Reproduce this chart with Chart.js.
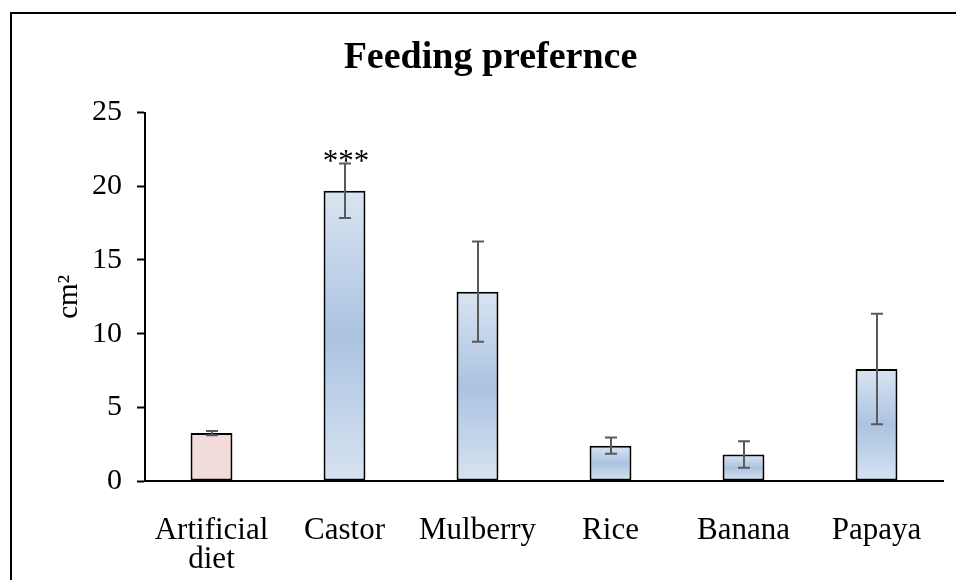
<!DOCTYPE html>
<html>
<head>
<meta charset="utf-8">
<script src="https://cdn.jsdelivr.net/npm/chart.js@4/dist/chart.umd.min.js"></script>
<style>
  html, body { margin: 0; padding: 0; background: #ffffff; }
  #wrap { width: 956px; height: 580px; position: relative; }
</style>
</head>
<body>
<div id="wrap"><canvas id="c" width="956" height="580"></canvas></div>
<script>
// Leaf area consumed per host plant (cm²)
const categories = [['Artificial', 'diet'], 'Castor', 'Mulberry', 'Rice', 'Banana', 'Papaya'];
const meanArea = [3.25, 19.7, 12.85, 2.4, 1.8, 7.6];
const errArea = [0.15, 1.85, 3.4, 0.55, 0.9, 3.75];
const marks = ['', '***', '', '', '', ''];
const yMin = 0, yMax = 25, yStep = 5;

const SERIF = "'Liberation Serif', 'Times New Roman', serif";

// vertical gradient per bar: light edges, deeper blue in the middle
function barFill(ctx) {
  const chart = ctx.chart;
  const i = ctx.dataIndex;
  if (i === 0) return '#f2dcdb';
  const ys = chart.scales.y;
  if (!ys || ctx.parsed === undefined) return '#c5d5ea';
  const top = ys.getPixelForValue(meanArea[i]);
  const base = ys.getPixelForValue(0);
  if (!isFinite(top) || !isFinite(base) || Math.abs(base - top) < 1) return '#c5d5ea';
  const g = chart.ctx.createLinearGradient(0, top, 0, base);
  g.addColorStop(0, '#d9e4f1');
  g.addColorStop(0.5, '#abc3e1');
  g.addColorStop(1, '#d7e3f1');
  return g;
}

// outer frame of the figure
const framePlugin = {
  id: 'frame',
  beforeDraw(chart) {
    const c = chart.ctx;
    c.save();
    c.fillStyle = '#ffffff';
    c.fillRect(0, 0, chart.width, chart.height);
    c.strokeStyle = '#000000';
    c.lineWidth = 2;
    c.beginPath();
    c.moveTo(11, chart.height + 5);
    c.lineTo(11, 13);
    c.lineTo(chart.width + 5, 13);
    c.stroke();
    c.restore();
  }
};

// error bars and significance marks
const errorPlugin = {
  id: 'errorBars',
  afterDatasetsDraw(chart) {
    const c = chart.ctx;
    const ys = chart.scales.y;
    const meta = chart.getDatasetMeta(0);
    c.save();
    c.strokeStyle = '#5a5a5a';
    c.lineWidth = 2;
    meta.data.forEach((bar, i) => {
      const x = Math.round(bar.x);
      const hi = ys.getPixelForValue(meanArea[i] + errArea[i]);
      const lo = ys.getPixelForValue(meanArea[i] - errArea[i]);
      const cap = 6;
      c.beginPath();
      c.moveTo(x, hi); c.lineTo(x, lo);
      c.moveTo(x - cap, hi); c.lineTo(x + cap, hi);
      c.moveTo(x - cap, lo); c.lineTo(x + cap, lo);
      c.stroke();
      if (marks[i]) {
        c.fillStyle = '#000000';
        c.font = '31px ' + SERIF;
        c.textAlign = 'center';
        c.textBaseline = 'alphabetic';
        c.fillText(marks[i], x + 1, hi + 8);
      }
    });
    c.restore();
  }
};

new Chart(document.getElementById('c'), {
  type: 'bar',
  data: {
    labels: categories,
    datasets: [{
      data: meanArea,
      backgroundColor: barFill,
      borderColor: '#000000',
      borderWidth: 2,
      borderSkipped: false,
      barPercentage: 0.315,
      categoryPercentage: 1.0
    }]
  },
  options: {
    responsive: false,
    animation: false,
    devicePixelRatio: 1,
    layout: { padding: { left: 38, right: 13, top: 0, bottom: 0 } },
    plugins: {
      legend: { display: false },
      tooltip: { enabled: false },
      title: {
        display: true,
        text: 'Feeding prefernce',
        color: '#000000',
        font: { family: SERIF, size: 38, weight: 'bold', lineHeight: 1.2 },
        padding: { top: 35, bottom: 32 }
      }
    },
    scales: {
      x: {
        grid: { display: false },
        border: { display: true, color: '#000000', width: 2 },
        ticks: {
          color: '#000000',
          font: { family: SERIF, size: 31, lineHeight: 0.95 },
          padding: 27,
          maxRotation: 0,
          autoSkip: false
        },
        afterFit(scale) { scale.height = 99; }
      },
      y: {
        min: yMin,
        max: yMax,
        ticks: {
          stepSize: yStep,
          color: '#000000',
          font: { family: SERIF, size: 30 },
          padding: 15
        },
        grid: {
          drawOnChartArea: false,
          drawTicks: true,
          tickLength: 8,
          tickColor: '#000000',
          tickWidth: 2
        },
        border: { display: true, color: '#000000', width: 2 },
        title: {
          display: true,
          text: 'cm²',
          color: '#000000',
          font: { family: SERIF, size: 29 },
          padding: { top: 14, bottom: 0 }
        },
        afterFit(scale) { scale.width = 107; }
      }
    }
  },
  plugins: [framePlugin, errorPlugin]
});
</script>
</body>
</html>
